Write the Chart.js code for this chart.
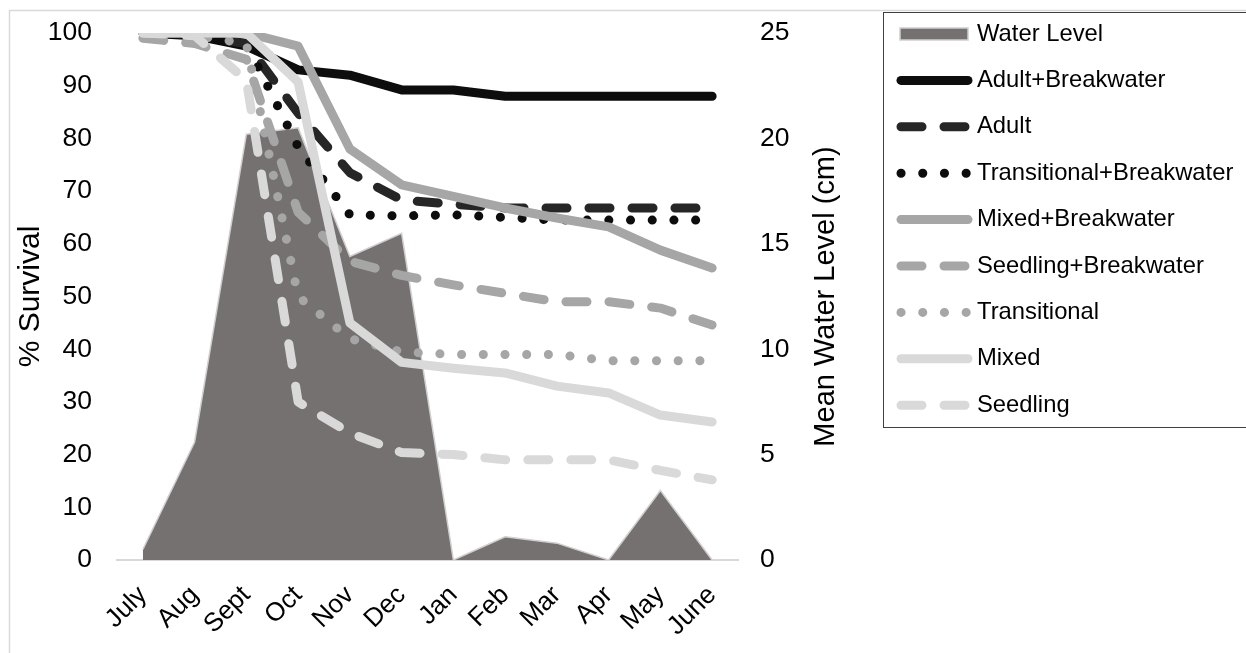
<!DOCTYPE html>
<html>
<head>
<meta charset="utf-8">
<title>Survival and mean water level</title>
<script src="https://cdn.jsdelivr.net/npm/chart.js@4.4.1/dist/chart.umd.min.js"></script>
<style>
  html, body { margin: 0; padding: 0; background: #fff; }
  #wrap { width: 1246px; height: 653px; position: relative; }
</style>
</head>
<body>
<div id="wrap"><canvas id="chart"></canvas></div>
<script>
// Categories and series
const months = ['July', 'Aug', 'Sept', 'Oct', 'Nov', 'Dec', 'Jan', 'Feb', 'Mar', 'Apr', 'May', 'June'];

const waterLevel = [0.5, 5.6, 20.2, 20.5, 14.4, 15.5, 0, 1.1, 0.8, 0, 3.3, 0];

const adultBreakwater = [100, 99.5, 97.5, 93, 92, 89.2, 89.2, 88, 88, 88, 88, 88];
const adult = [100, 99.5, 98, 84.8, 73.5, 68.3, 67.5, 66.8, 66.8, 66.8, 66.8, 66.8];
const transitionalBreakwater = [100, 99.5, 98, 78.4, 65.5, 65.3, 65.5, 65, 64.5, 64.5, 64.5, 64.5];
const mixedBreakwater = [100, 100, 100, 97.5, 78, 71.2, 69, 66.8, 64.9, 63.2, 58.8, 55.4];
const seedlingBreakwater = [99, 98, 95, 66, 56.7, 54, 52.2, 50.6, 49, 49, 47.8, 44.6];
const transitional = [100, 99.5, 98, 50, 42, 39.5, 39, 39, 39, 37.8, 37.8, 37.8];
const mixed = [100, 100, 100, 90.7, 45, 37.5, 36.4, 35.5, 33, 31.7, 27.5, 26.2];
const seedling = [100, 99.5, 91, 30, 24.1, 20.4, 20, 19, 19, 19, 17, 15.2];

const survivalTicks = { min: 0, max: 100, step: 10 };
const waterTicks = { min: 0, max: 25, step: 5 };

document.addEventListener('DOMContentLoaded', () => {
    const FONT = '"Liberation Sans", Arial, sans-serif';
    Chart.defaults.font.family = FONT;
    Chart.defaults.color = '#000';

    const DASH = [21, 22];
    const DOT = [0.1, 21.6];

    // helper for the survival lines
    function survivalLine(label, data, color, dash) {
        return {
            type: 'line',
            label: label,
            data: data,
            yAxisID: 'y',
            borderColor: color,
            backgroundColor: color,
            borderWidth: 9,
            borderDash: dash,
            borderCapStyle: 'round',
            borderJoinStyle: 'round',
            pointRadius: 0,
            tension: 0,
            fill: false
        };
    }

    const datasets = [
        {
            type: 'line',
            label: 'Water Level',
            data: waterLevel,
            yAxisID: 'y1',
            borderColor: '#d0cece',
            backgroundColor: '#767171',
            borderWidth: 1.5,
            pointRadius: 0,
            tension: 0,
            fill: 'origin'
        },
        survivalLine('Adult+Breakwater', adultBreakwater, '#0d0d0d', []),
        survivalLine('Adult', adult, '#262626', DASH),
        survivalLine('Transitional+Breakwater', transitionalBreakwater, '#0d0d0d', DOT),
        survivalLine('Mixed+Breakwater', mixedBreakwater, '#a6a6a6', []),
        survivalLine('Seedling+Breakwater', seedlingBreakwater, '#a6a6a6', DASH),
        survivalLine('Transitional', transitional, '#a6a6a6', DOT),
        survivalLine('Mixed', mixed, '#d9d9d9', []),
        survivalLine('Seedling', seedling, '#d9d9d9', DASH)
    ];
    // later series on top, like in the spreadsheet
    datasets.forEach((ds, i) => { ds.order = datasets.length - i; });

    // outer frame of the chart
    const framePlugin = {
        id: 'frame',
        beforeDraw(chart) {
            const ctx = chart.ctx;
            ctx.save();
            ctx.fillStyle = '#fff';
            ctx.fillRect(0, 0, chart.width, chart.height);
            ctx.strokeStyle = '#d9d9d9';
            ctx.lineWidth = 1.5;
            ctx.strokeRect(9.5, 10.5, chart.width + 40, chart.height + 40);
            ctx.restore();
        }
    };

    // right axis title reads bottom to top, drawn by hand
    const rightTitlePlugin = {
        id: 'rightTitle',
        afterDraw(chart) {
            const s = chart.scales.y1;
            const ctx = chart.ctx;
            ctx.save();
            ctx.translate(s.left + 88, (s.top + s.bottom) / 2);
            ctx.rotate(-Math.PI / 2);
            ctx.font = '29px ' + FONT;
            ctx.fillStyle = '#000';
            ctx.textAlign = 'center';
            ctx.textBaseline = 'middle';
            ctx.fillText('Mean Water Level (cm)', 0, 0);
            ctx.restore();
        }
    };

    // boxed legend on the right
    const legendPlugin = {
        id: 'boxLegend',
        afterDraw(chart) {
            const ctx = chart.ctx;
            const rowH = 46.4;
            ctx.save();
            ctx.strokeStyle = '#404040';
            ctx.lineWidth = 1;
            ctx.strokeRect(883.5, 12.5, chart.width, 415);
            ctx.font = '23.8px ' + FONT;
            ctx.textBaseline = 'middle';
            chart.data.datasets.forEach((ds, i) => {
                const y = 34 + i * rowH;
                if (ds.fill) {
                    ctx.fillStyle = ds.backgroundColor;
                    ctx.fillRect(900, y - 6, 68, 12);
                    ctx.strokeStyle = ds.borderColor;
                    ctx.lineWidth = 1.5;
                    ctx.strokeRect(900, y - 6, 68, 12);
                } else {
                    ctx.beginPath();
                    ctx.setLineDash(ds.borderDash);
                    ctx.lineCap = ds.borderCapStyle;
                    ctx.lineWidth = ds.borderWidth;
                    ctx.strokeStyle = ds.borderColor;
                    ctx.moveTo(901, y);
                    ctx.lineTo(968, y);
                    ctx.stroke();
                    ctx.setLineDash([]);
                }
                ctx.fillStyle = '#000';
                ctx.fillText(ds.label, 977, y);
            });
            ctx.restore();
        }
    };

    const ctx = document.getElementById('chart').getContext('2d');
    new Chart(ctx, {
        data: { labels: months, datasets: datasets },
        plugins: [framePlugin, rightTitlePlugin, legendPlugin],
        options: {
            responsive: true,
            maintainAspectRatio: false,
            animation: false,
            layout: { padding: { left: 0, top: 33, right: 398, bottom: 0 } },
            plugins: {
                legend: { display: false },
                tooltip: { enabled: false }
            },
            scales: {
                x: {
                    offset: true,
                    grid: { display: false, drawTicks: false },
                    border: { color: '#d9d9d9', width: 2 },
                    ticks: {
                        autoSkip: false,
                        minRotation: 45,
                        maxRotation: 45,
                        padding: 20,
                        font: { size: 26 }
                    },
                    afterFit: (s) => { s.height = 93; }
                },
                y: {
                    position: 'left',
                    min: survivalTicks.min,
                    max: survivalTicks.max,
                    // invisible tick marks keep the labels away from the plot
                    grid: { display: false, drawTicks: true, tickLength: 25 },
                    border: { display: false },
                    ticks: { stepSize: survivalTicks.step, padding: 0, font: { size: 26.5 } },
                    title: {
                        display: true,
                        text: '% Survival',
                        font: { size: 30 },
                        padding: { top: 13, bottom: 0 }
                    },
                    afterFit: (s) => { s.width = 117; }
                },
                y1: {
                    position: 'right',
                    min: waterTicks.min,
                    max: waterTicks.max,
                    grid: { display: false, drawTicks: true, tickLength: 22 },
                    border: { display: false },
                    ticks: { stepSize: waterTicks.step, padding: 0, font: { size: 26.5 } },
                    afterFit: (s) => { s.width = 110; }
                }
            }
        }
    });
});
</script>
</body>
</html>
